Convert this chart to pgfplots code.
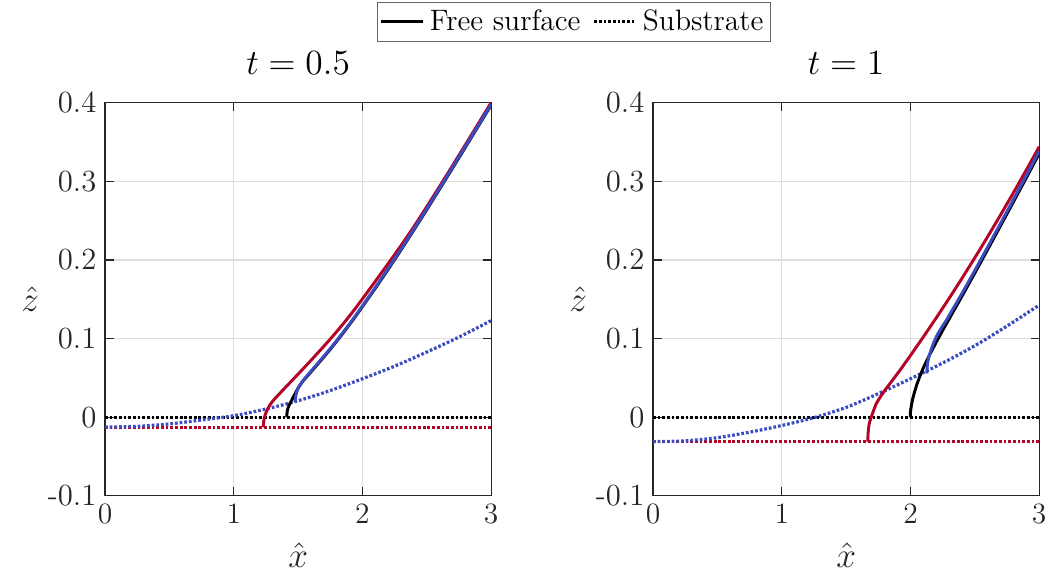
\documentclass[border=0pt]{standalone}
\usepackage{pgfplots}
\pgfplotsset{compat=1.18}

\definecolor{cwred}{RGB}{180,4,38}
\definecolor{cwblue}{RGB}{59,76,192}
\definecolor{axgray}{RGB}{38,38,38}

\pgfplotsset{
  panel/.style={
    scale only axis, width=157pt, height=159.8pt,
    xmin=0, xmax=3, ymin=-0.1, ymax=0.4,
    xtick={0,1,2,3}, ytick={-0.1,0,0.1,0.2,0.3,0.4},
    yticklabels={-0.1,0,0.1,0.2,0.3,0.4},
    grid=major, grid style={black!13, line width=0.5pt},
    axis line style={axgray, line width=0.5pt},
    tick style={axgray, line width=0.5pt}, major tick length=3.5pt,
    tick label style={font=\fontsize{12.5}{14}\selectfont, text=axgray},
    label style={font=\fontsize{14}{16}\selectfont, text=axgray},
    xlabel={$\hat{x}$}, ylabel={$\hat{z}$},
    xlabel style={at={(axis description cs:0.5,-0.15)}, anchor=center},
    ylabel style={at={(axis description cs:-0.194,0.5)}, anchor=center, rotate=-90},
    title style={at={(axis description cs:0.5,1.064)}, anchor=center,
      font=\fontsize{13.5}{16}\selectfont},
  },
  fs/.style={line width=1.2pt},
  sub/.style={line width=1.3pt, dash pattern=on 1.1pt off 0.8pt},
}

\begin{document}
\begin{tikzpicture}
\path[use as bounding box] (-42.7pt,-33.7pt) rectangle (384.6pt,201.6pt);

% t = 0.5
\begin{axis}[panel, at={(0,0)}, anchor=south west, title={$t = 0.5$},
  legend style={at={(1.215,1.206)}, anchor=center, legend columns=2,
    draw=black!60, font=\fontsize{12}{14}\selectfont, inner sep=1pt,
    /tikz/every even column/.append style={column sep=3pt}}]
\addlegendimage{black, fs}
\addlegendentry{Free surface}
\addlegendimage{black, sub}
\addlegendentry{Substrate}

\addplot[black, sub, forget plot] coordinates {(0,0) (3,0)};
\addplot[cwred, sub, forget plot] coordinates {(0,-0.0127) (3,-0.0127)};
\addplot[cwblue, sub, smooth, forget plot] coordinates {
  (0,-0.0125) (0.25,-0.0115) (0.5,-0.0085) (0.75,-0.0035) (1.0,0.002)
  (1.25,0.0105) (1.5,0.021) (1.75,0.034) (2.0,0.049) (2.25,0.065)
  (2.5,0.083) (2.75,0.102) (3.0,0.123)};

\addplot[cwred, fs, forget plot] coordinates {
  (1.230,-0.0127) (1.231,-0.008) (1.234,-0.004) (1.239,0.000) (1.246,0.004)
  (1.256,0.008) (1.268,0.012) (1.283,0.016) (1.300,0.0200) (1.325,0.0246)
  (1.350,0.0290) (1.400,0.0377) (1.450,0.0463) (1.500,0.0549) (1.550,0.0636)
  (1.600,0.0724) (1.650,0.0813) (1.700,0.0903) (1.750,0.0995) (1.800,0.109)
  (1.850,0.1188) (1.900,0.129) (1.950,0.1396) (2.000,0.1506) (2.100,0.173)
  (2.200,0.1955) (2.300,0.2185) (2.400,0.2425) (2.500,0.268) (2.600,0.2939)
  (2.700,0.3202) (2.800,0.3468) (2.900,0.3736) (3.000,0.4004)};
\addplot[black, fs, forget plot] coordinates {
  (1.412,0) (1.413,0.004) (1.416,0.008) (1.422,0.012) (1.432,0.016)
  (1.445,0.020) (1.460,0.025) (1.480,0.031) (1.500,0.037) (1.520,0.042)
  (1.540,0.0465) (1.560,0.0502) (1.590,0.0558) (1.620,0.0614) (1.660,0.069)
  (1.700,0.0767) (1.750,0.0865) (1.800,0.0967) (1.850,0.1072) (1.900,0.118)
  (1.950,0.1292) (2.000,0.1408) (2.100,0.1641) (2.200,0.1882) (2.300,0.213)
  (2.400,0.2384) (2.500,0.2642) (2.600,0.2904) (2.700,0.3169) (2.800,0.3436)
  (2.900,0.3704) (3.000,0.3972)};
\addplot[cwblue, fs, forget plot] coordinates {
  (1.477,0.0195) (1.480,0.025) (1.486,0.030) (1.495,0.035) (1.507,0.039)
  (1.520,0.0425) (1.540,0.047) (1.560,0.051) (1.590,0.0567) (1.620,0.0624)
  (1.660,0.070) (1.700,0.0777) (1.750,0.0875) (1.800,0.0977) (1.850,0.1082)
  (1.900,0.119) (1.950,0.1302) (2.000,0.1418) (2.100,0.1651) (2.200,0.1892)
  (2.300,0.214) (2.400,0.2394) (2.500,0.2652) (2.600,0.2914) (2.700,0.3179)
  (2.800,0.3446) (2.900,0.3714) (3.000,0.3982)};
\end{axis}

% t = 1
\begin{axis}[panel, at={(222.8pt,0)}, anchor=south west, title={$t = 1$}]
\addplot[black, sub] coordinates {(0,0) (3,0)};
\addplot[cwred, sub] coordinates {(0,-0.031) (3,-0.031)};
\addplot[cwblue, sub, smooth] coordinates {
  (0,-0.031) (0.25,-0.030) (0.5,-0.026) (0.75,-0.019) (1.0,-0.0105)
  (1.25,-0.0005) (1.5,0.0125) (1.75,0.030) (2.0,0.049) (2.25,0.069)
  (2.5,0.091) (2.75,0.116) (3.0,0.1427)};

\addplot[cwred, fs] coordinates {
  (1.669,-0.031) (1.670,-0.022) (1.674,-0.014) (1.681,-0.007) (1.695,0.000)
  (1.712,0.008) (1.734,0.0174) (1.770,0.027) (1.811,0.0365) (1.860,0.047)
  (1.915,0.059) (2.000,0.0786) (2.100,0.1022) (2.200,0.1264) (2.300,0.1512)
  (2.400,0.1767) (2.500,0.2029) (2.600,0.2298) (2.700,0.2574) (2.800,0.2857)
  (2.900,0.3146) (3.000,0.3441)};
\addplot[black, fs] coordinates {
  (1.998,0) (2.000,0.007) (2.005,0.013) (2.015,0.022) (2.031,0.032)
  (2.050,0.042) (2.070,0.051) (2.095,0.061) (2.120,0.070) (2.160,0.083)
  (2.200,0.0955) (2.250,0.1105) (2.300,0.125) (2.400,0.154) (2.500,0.1835)
  (2.600,0.2135) (2.700,0.2437) (2.800,0.2741) (2.900,0.3047) (3.000,0.3355)};
\addplot[cwblue, fs] coordinates {
  (2.127,0.0557) (2.129,0.063) (2.134,0.070) (2.145,0.078) (2.160,0.086)
  (2.185,0.097) (2.212,0.106) (2.245,0.115) (2.281,0.124) (2.300,0.1295)
  (2.400,0.1575) (2.500,0.1868) (2.600,0.2167) (2.700,0.2468) (2.800,0.2771)
  (2.900,0.3076) (3.000,0.3386)};
\end{axis}
\end{tikzpicture}
\end{document}
